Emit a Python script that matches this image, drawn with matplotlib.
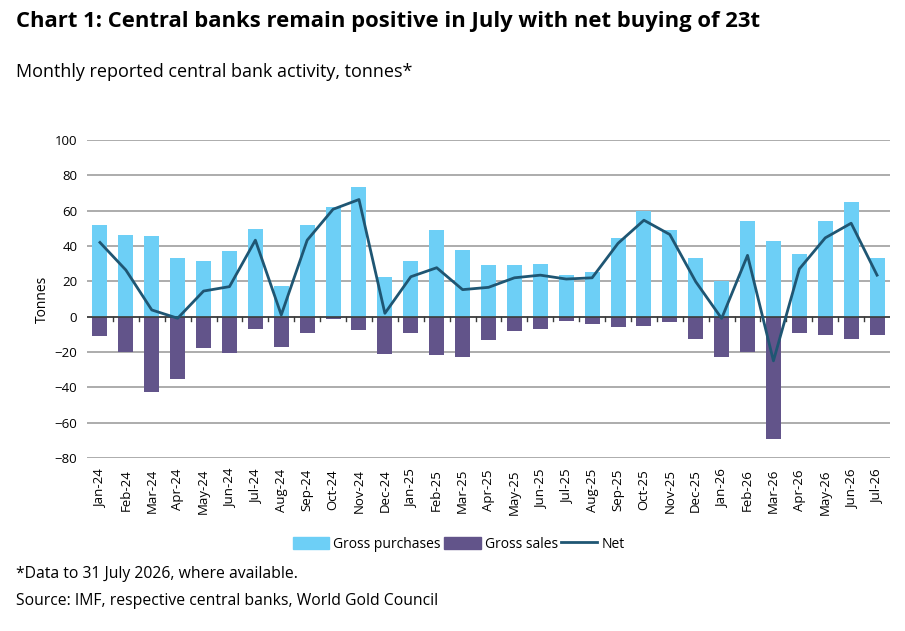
import numpy as np
import matplotlib
matplotlib.use("Agg")
import matplotlib.pyplot as plt
from matplotlib.lines import Line2D
from matplotlib.patches import Patch

plt.rcParams['font.family'] = ['Open Sans', 'DejaVu Sans']

months = ['Jan-24', 'Feb-24', 'Mar-24', 'Apr-24', 'May-24', 'Jun-24', 'Jul-24', 'Aug-24',
          'Sep-24', 'Oct-24', 'Nov-24', 'Dec-24', 'Jan-25', 'Feb-25', 'Mar-25', 'Apr-25',
          'May-25', 'Jun-25', 'Jul-25', 'Aug-25', 'Sep-25', 'Oct-25', 'Nov-25', 'Dec-25',
          'Jan-26', 'Feb-26', 'Mar-26', 'Apr-26', 'May-26', 'Jun-26', 'Jul-26']
purchases = [52, 46.5, 45.6, 33, 31.3, 37, 49.5, 17.3, 51.8, 62, 73.3, 22.6, 31.5, 49.2, 37.7, 29.4,
             29.4, 30, 23.4, 25.4, 44.3, 60, 49.2, 33.2, 20.2, 54, 43, 35.2, 54, 65, 33.2]
sales = [-10.7, -20.1, -42.7, -35.4, -17.5, -20.7, -6.8, -17, -9, -1.5, -7.5, -21.2, -9, -21.6, -22.8, -13.2,
         -7.9, -6.8, -2.4, -3.9, -5.8, -5.3, -3, -12.6, -22.8, -19.8, -69.1, -9.2, -10.2, -12.6, -10.2]
net = [42, 26.4, 3.8, -0.9, 14.5, 17, 43.3, 1, 43.3, 60.8, 66.3, 1.9, 22.6, 27.7, 15.3, 16.6,
       22, 23.5, 21.3, 22, 41.5, 54.6, 46.5, 19.8, -1, 34.7, -25, 27, 44.6, 52.9, 23.5]

c_buy = '#6dcff6'
c_sell = '#62548a'
c_net = '#1f5673'

fig = plt.figure(figsize=(9.05, 6.31), dpi=100)
ax = fig.add_axes([87 / 905, 1 - 458 / 631, 803 / 905, 318 / 631])

x = np.arange(len(months))
ax.bar(x, purchases, width=0.58, color=c_buy, zorder=2)
ax.bar(x, sales, width=0.58, color=c_sell, zorder=2)
ax.plot(x, net, color=c_net, lw=2, zorder=3)

ax.set_xlim(-0.5, len(months) - 0.5)
ax.set_ylim(-80, 100)
ax.set_yticks(np.arange(-80, 101, 20))
ax.yaxis.grid(True, color='#a6a6a6', lw=1.3)
ax.set_axisbelow(True)
for s in ax.spines.values():
    s.set_visible(False)
ax.tick_params(axis='y', length=0, labelsize=9.5, pad=7)
ax.axhline(0, color='#3a3a3a', lw=1.2, zorder=2.5)
for b in np.arange(0.5, len(months) - 1, 1):
    ax.plot([b, b], [0, -2.5], color='#3a3a3a', lw=1, zorder=2.5)

ax.set_xticks(x)
ax.set_xticklabels(months, rotation=90, fontsize=9.5)
ax.tick_params(axis='x', length=0, pad=8)
ax.set_ylabel('Tonnes', fontsize=10, labelpad=3)

handles = [Patch(color=c_buy, label='Gross purchases'),
           Patch(color=c_sell, label='Gross sales'),
           Line2D([0], [0], color=c_net, lw=2, label='Net')]
fig.legend(handles=handles, loc='center', bbox_to_anchor=(459 / 905, 1 - 544 / 631), ncol=3,
           frameon=False, fontsize=10, handlelength=2.6, handleheight=1.0,
           columnspacing=0.25, handletextpad=0.3)

fig.text(16 / 905, 1 - 22 / 631, 'Chart 1: Central banks remain positive in July with net buying of 23t',
         fontsize=15.8, fontweight='bold', va='center', ha='left')
fig.text(16 / 905, 1 - 72 / 631, 'Monthly reported central bank activity, tonnes*',
         fontsize=13, va='center', ha='left')
fig.text(16 / 905, 1 - 574 / 631, '*Data to 31 July 2026, where available.',
         fontsize=11.3, va='center', ha='left')
fig.text(16 / 905, 1 - 601 / 631, 'Source: IMF, respective central banks, World Gold Council',
         fontsize=11.3, va='center', ha='left')

fig.savefig('out.png', dpi=100)
